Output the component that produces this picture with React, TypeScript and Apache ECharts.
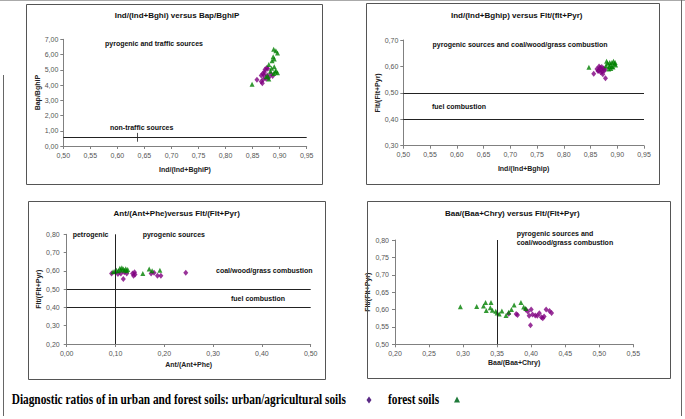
import React, { useEffect, useRef } from "react";
import * as echarts from "echarts";

// ---------- DATA ----------
// Panel 1: Ind/(Ind+BghiP) vs Bap/BghiP
const p1Urban: number[][] = [
  [0.858, 4.34], [0.866, 4.23], [0.868, 4.12], [0.870, 4.38], [0.866, 4.62], [0.869, 4.76],
  [0.873, 5.02], [0.876, 5.12], [0.872, 4.86], [0.877, 4.62], [0.880, 4.50], [0.884, 4.72],
  [0.875, 4.42], [0.871, 4.66], [0.878, 5.06], [0.887, 4.60],
];
const p1Forest: number[][] = [
  [0.849, 4.05], [0.889, 6.35], [0.893, 6.25], [0.896, 6.10], [0.888, 5.85], [0.890, 5.70],
  [0.886, 5.60], [0.880, 5.35], [0.885, 5.10], [0.890, 5.20], [0.893, 4.95], [0.896, 4.80],
  [0.889, 4.75], [0.883, 4.90], [0.878, 4.60], [0.880, 4.40], [0.875, 4.55], [0.892, 4.85],
];
// Panel 2: Ind/(Ind+Bghip) vs Flt/(Flt+Pyr)
const p2Urban: number[][] = [
  [0.856, 0.572], [0.862, 0.590], [0.865, 0.585], [0.866, 0.600], [0.868, 0.595], [0.870, 0.588],
  [0.872, 0.580], [0.874, 0.592], [0.869, 0.578], [0.876, 0.585], [0.878, 0.555], [0.873, 0.570],
  [0.864, 0.583], [0.871, 0.598], [0.877, 0.590],
];
const p2Forest: number[][] = [
  [0.847, 0.597], [0.880, 0.620], [0.882, 0.612], [0.885, 0.600], [0.887, 0.605], [0.890, 0.615],
  [0.893, 0.620], [0.895, 0.610], [0.897, 0.605], [0.892, 0.598], [0.888, 0.592], [0.884, 0.590],
  [0.879, 0.603], [0.896, 0.615], [0.890, 0.600], [0.886, 0.615],
];
// Panel 3: Ant/(Ant+Phe) vs Flt/(Flt+Pyr)
const p3Urban: number[][] = [
  [0.092, 0.586], [0.105, 0.583], [0.111, 0.586], [0.116, 0.555], [0.123, 0.586], [0.135, 0.586],
  [0.137, 0.573], [0.139, 0.592], [0.140, 0.580], [0.173, 0.586], [0.179, 0.590], [0.186, 0.573],
  [0.193, 0.573], [0.244, 0.590], [0.118, 0.592],
];
const p3Forest: number[][] = [
  [0.095, 0.595], [0.102, 0.604], [0.106, 0.600], [0.109, 0.614], [0.113, 0.617], [0.116, 0.610],
  [0.119, 0.604], [0.123, 0.600], [0.121, 0.612], [0.111, 0.605], [0.125, 0.608], [0.156, 0.586],
  [0.169, 0.610], [0.175, 0.600], [0.191, 0.604], [0.099, 0.598],
];
// Panel 4: Baa/(Baa+Chry) vs Flt/(Flt+Pyr)
const p4Urban: number[][] = [
  [0.367, 0.588], [0.378, 0.587], [0.380, 0.584], [0.392, 0.600], [0.395, 0.594], [0.397, 0.582],
  [0.399, 0.555], [0.400, 0.600], [0.402, 0.586], [0.406, 0.583], [0.409, 0.582], [0.412, 0.589],
  [0.415, 0.578], [0.417, 0.575], [0.419, 0.580], [0.422, 0.600], [0.427, 0.596], [0.430, 0.590],
];
const p4Forest: number[][] = [
  [0.296, 0.608], [0.320, 0.609], [0.330, 0.610], [0.333, 0.620], [0.334, 0.597], [0.340, 0.605],
  [0.341, 0.620], [0.343, 0.598], [0.348, 0.595], [0.350, 0.590], [0.353, 0.587], [0.357, 0.596],
  [0.363, 0.583], [0.367, 0.592], [0.371, 0.600], [0.375, 0.613], [0.385, 0.620], [0.389, 0.607],
  [0.392, 0.603],
];

// Reference (threshold) lines
const p1HLines = [0.6];
const p1Arrow = [0.637, 0.86, 0.28]; // x, from y, to y
const p2HLines = [0.5, 0.4];
const p3HLines = [0.5, 0.4];
const p3VLines = [0.1];
const p4VLines = [0.35];

// Axis ranges [min, max, interval]
const p1X = [0.5, 0.95, 0.05];
const p1Y = [0, 7, 1];
const p2X = [0.5, 0.95, 0.05];
const p2Y = [0.3, 0.7, 0.1];
const p3X = [0, 0.5, 0.1];
const p3Y = [0.2, 0.8, 0.1];
const p4X = [0.2, 0.55, 0.05];
const p4Y = [0.5, 0.8, 0.05];

const titles = [
  "Ind/(Ind+Bghi) versus Bap/BghiP",
  "Ind/(Ind+Bghip) versus Flt/(flt+Pyr)",
  "Ant/(Ant+Phe)versus Flt/(Flt+Pyr)",
  "Baa/(Baa+Chry) versus Flt/(Flt+Pyr)",
];
const xNames = ["Ind/(Ind+BghiP)", "Ind/(Ind+Bghip)", "Ant/(Ant+Phe)", "Baa/(Baa+Chry)"];
const yNames = ["Bap/BghiP", "Flt/(Flt+Pyr)", "Flt/(Flt+Pyr)", "Flt/(Flt+Pyr)"];
const legendText = "Diagnostic ratios of in urban and forest soils: urban/agricultural soils";
const legendForest = "forest soils";

const PURPLE = "#800080";
const GREEN = "#008000";
const FONT = "'Liberation Sans', Arial, sans-serif";
const SERIF = "'Liberation Serif', 'Times New Roman', serif";

const fmt = (v: number) => v.toFixed(2).replace(".", ",");

function xAxis(gi: number, r: number[], name: string, margin: number, nameGap: number) {
  return {
    type: "value", gridIndex: gi, min: r[0], max: r[1], interval: r[2],
    name, nameLocation: "middle", nameGap,
    nameTextStyle: { fontSize: 7, fontWeight: "bold", color: "#222", fontFamily: FONT },
    axisLine: { show: true, onZero: false, lineStyle: { color: "#808080", width: 1 } },
    axisTick: { show: true, length: 3, lineStyle: { color: "#808080" } },
    axisLabel: { fontSize: 7, color: "#555", margin, fontFamily: FONT, formatter: fmt },
    splitLine: { show: false },
  };
}
function yAxis(gi: number, r: number[], name: string, margin: number, nameGap: number) {
  return {
    type: "value", gridIndex: gi, min: r[0], max: r[1], interval: r[2],
    name, nameLocation: "middle", nameGap,
    nameTextStyle: { fontSize: 7, fontWeight: "bold", color: "#222", fontFamily: FONT },
    axisLine: { show: true, onZero: false, lineStyle: { color: "#808080", width: 1 } },
    axisTick: { show: true, length: 3, lineStyle: { color: "#808080" } },
    axisLabel: { fontSize: 7, color: "#555", margin, fontFamily: FONT, formatter: fmt },
    splitLine: { show: false },
  };
}

const lineStyle = { color: "#222", width: 1, type: "solid" };

function markLines(h: number[], v: number[]) {
  return {
    silent: true, symbol: ["none", "none"], label: { show: false }, lineStyle,
    data: [...h.map((y) => ({ yAxis: y })), ...v.map((x) => ({ xAxis: x }))],
  };
}

function scatter(gi: number, data: number[][], urban: boolean, ml?: any) {
  const s: any = {
    type: "scatter", xAxisIndex: gi, yAxisIndex: gi, data,
    symbol: urban ? "diamond" : "triangle", symbolSize: urban ? [5, 6] : 5,
    itemStyle: { color: urban ? PURPLE : GREEN }, silent: true,
  };
  if (ml) s.markLine = ml;
  return s;
}

function txt(x: number, y: number, text: string, opts: any = {}) {
  const align = opts.align || "center";
  return {
    type: "text", x, y, z: 10, silent: true,
    scaleX: opts.scaleX || 1,
    style: {
      text, fill: opts.color || "#111", fontSize: opts.size || 7,
      fontWeight: opts.weight || "bold", fontFamily: opts.family || FONT,
      align, textAlign: align, verticalAlign: "middle", textVerticalAlign: "middle",
    },
  };
}
function box(x1: number, y1: number, x2: number, y2: number) {
  return {
    type: "rect", shape: { x: x1 + 0.5, y: y1 + 0.5, width: x2 - x1, height: y2 - y1 },
    style: { fill: "none", stroke: "#555", lineWidth: 1 }, silent: true, z: 5,
  };
}
function seg(x1: number, y1: number, x2: number, y2: number, color: string) {
  return { type: "line", shape: { x1, y1, x2, y2 }, style: { stroke: color, lineWidth: 1 }, silent: true };
}

export default function App() {
  const ref = useRef<HTMLDivElement>(null);
  useEffect(() => {
    if (!ref.current) return;
    const chart = echarts.init(ref.current, undefined, { renderer: "svg" });
    const option: any = {
      animation: false,
      backgroundColor: "#fff",
      grid: [
        { left: 63.3, top: 39.3, width: 243.4, height: 106.7 },
        { left: 403.3, top: 40, width: 240.7, height: 105.7 },
        { left: 66.7, top: 234.3, width: 244, height: 109.7 },
        { left: 395, top: 240, width: 238.3, height: 104.3 },
      ],
      xAxis: [
        xAxis(0, p1X, xNames[0], 6, 20),
        xAxis(1, p2X, xNames[1], 5, 19),
        xAxis(2, p3X, xNames[2], 6, 17),
        xAxis(3, p4X, xNames[3], 6, 15),
      ],
      yAxis: [
        yAxis(0, p1Y, yNames[0], 5, 21),
        yAxis(1, p2Y, yNames[1], 5, 20),
        yAxis(2, p3Y, yNames[2], 7, 23),
        yAxis(3, p4Y, yNames[3], 6, 16),
      ],
      series: [
        scatter(0, p1Urban, true, markLines(p1HLines, [])),
        scatter(0, p1Forest, false, {
          silent: true, symbol: ["none", "arrow"], symbolSize: [0, 4], label: { show: false },
          lineStyle: { color: "#222", width: 0.8, type: "solid" },
          data: [[{ coord: [p1Arrow[0], p1Arrow[1]] }, { coord: [p1Arrow[0], p1Arrow[2]] }]],
        }),
        scatter(1, p2Urban, true, markLines(p2HLines, [])),
        scatter(1, p2Forest, false),
        scatter(2, p3Urban, true, markLines(p3HLines, p3VLines)),
        scatter(2, p3Forest, false),
        scatter(3, p4Urban, true, markLines([], p4VLines)),
        scatter(3, p4Forest, false),
      ],
      graphic: [
        // page frame
        seg(0, 0.5, 685, 0.5, "#aaa"),
        seg(3.5, 75, 3.5, 416, "#666"),
        seg(681.5, 0, 681.5, 416, "#666"),
        // panel boxes
        box(26, 4, 322, 184),
        box(366, 3, 659, 184),
        box(28, 201, 325, 379),
        box(367, 201, 670, 378),
        // titles
        txt(177, 15, titles[0], { size: 8 }),
        txt(516.7, 15, titles[1], { size: 8 }),
        txt(176.7, 213.5, titles[2], { size: 8 }),
        txt(512.3, 213.5, titles[3], { size: 8 }),
        // annotations panel 1
        txt(154, 43.5, "pyrogenic and traffic sources"),
        txt(141.7, 127.7, "non-traffic sources"),
        // panel 2
        txt(520, 44.3, "pyrogenic sources and coal/wood/grass combustion"),
        txt(432, 106, "fuel combustion", { align: "left" }),
        // panel 3
        txt(72.7, 234.3, "petrogenic", { align: "left" }),
        txt(142.7, 234.3, "pyrogenic sources", { align: "left" }),
        txt(216, 270.7, "coal/wood/grass combustion", { align: "left" }),
        txt(231, 298.3, "fuel combustion", { align: "left" }),
        // panel 4
        txt(516.7, 233.3, "pyrogenic sources and", { align: "left" }),
        txt(516.7, 242.7, "coal/wood/grass combustion", { align: "left" }),
        // legend line
        txt(11.7, 400, legendText, { align: "left", size: 14, family: SERIF, color: "#000", scaleX: 0.81 }),
        {
          type: "polygon", silent: true,
          shape: { points: [[369, 396.5], [371.5, 400], [369, 403.5], [366.5, 400]] },
          style: { fill: "#5b2a86" },
        },
        txt(388, 400, legendForest, { align: "left", size: 14, family: SERIF, color: "#000", scaleX: 0.81 }),
        {
          type: "polygon", silent: true,
          shape: { points: [[457, 396.5], [460, 402.5], [454, 402.5]] },
          style: { fill: "#1f7a3a" },
        },
      ],
    };
    chart.setOption(option);
    return () => chart.dispose();
  }, []);
  return (
    <div
      ref={ref}
      style={{ position: "absolute", left: 0, top: 0, width: 685, height: 419, background: "#fff" }}
    />
  );
}
